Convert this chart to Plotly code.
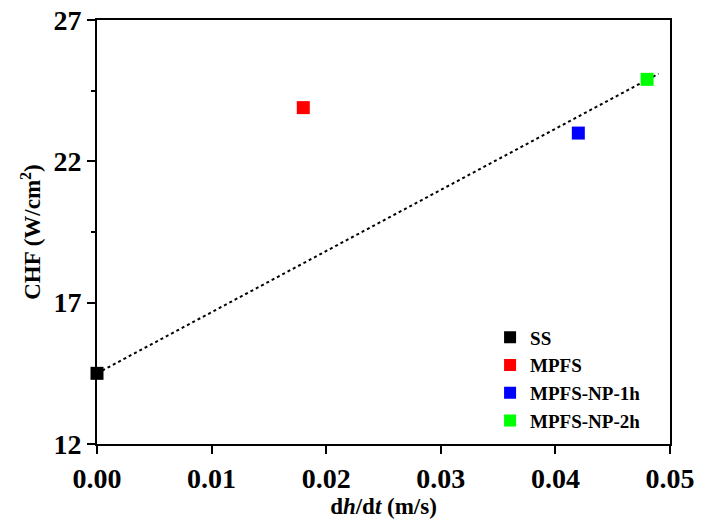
import plotly.graph_objects as go

series_names = ["SS", "MPFS", "MPFS-NP-1h", "MPFS-NP-2h"]
dhdt = [0.0, 0.018, 0.042, 0.048]
chf = [14.5, 23.9, 23.0, 24.9]
colors = ["#000000", "#ff0000", "#0000ff", "#00ff00"]

fit_x = [0.0, 0.049]
fit_y = [14.5, 25.1]

x_ticks = [0.00, 0.01, 0.02, 0.03, 0.04, 0.05]
x_ticktext = ["0.00", "0.01", "0.02", "0.03", "0.04", "0.05"]
y_ticks = [12, 17, 22, 27]

font = "Liberation Serif"

fig = go.Figure()
fig.add_trace(go.Scatter(x=fit_x, y=fit_y, mode="lines",
                         line=dict(color="black", width=2, dash="dot"),
                         showlegend=False, hoverinfo="skip"))
for n, xv, yv, c in zip(series_names, dhdt, chf, colors):
    fig.add_trace(go.Scatter(x=[xv], y=[yv], mode="markers", name=n,
                             marker=dict(symbol="square", size=13, color=c,
                                         line=dict(width=0)),
                             cliponaxis=False))

fig.update_layout(
    width=707, height=513,
    margin=dict(l=89, r=45, t=12, b=77),
    plot_bgcolor="white", paper_bgcolor="white",
    font=dict(family=font, color="black"),
    legend=dict(x=0.686, y=0.296, xanchor="left", yanchor="top",
                bgcolor="rgba(0,0,0,0)", borderwidth=0,
                font=dict(size=19, family=font, weight="bold"),
                itemsizing="constant", tracegroupgap=0),
)
fig.update_xaxes(
    range=[0, 0.05], tickvals=x_ticks, ticktext=x_ticktext,
    showgrid=False, zeroline=False, automargin=False,
    ticklabeloverflow="allow",
    showline=True, linecolor="black", linewidth=2, mirror=True,
    ticks="outside", ticklen=8, tickwidth=2, tickcolor="black",
    tickfont=dict(size=28, family=font, weight="bold"),
    title=dict(text="d<i>h</i>/d<i>t</i> (m/s)",
               font=dict(size=23, family=font, weight="bold"), standoff=4),
)
fig.update_yaxes(
    range=[12, 27], tickvals=y_ticks,
    showgrid=False, zeroline=False, automargin=False,
    ticklabeloverflow="allow",
    showline=True, linecolor="black", linewidth=2, mirror=True,
    ticks="outside", ticklen=8, tickwidth=2, tickcolor="black",
    minor=dict(dtick=2.5, tick0=12, ticks="outside", ticklen=4, tickwidth=2,
               tickcolor="black", showgrid=False),
    tickfont=dict(size=28, family=font, weight="bold"),
    title=dict(text="CHF (W/cm<sup>2</sup>)",
               font=dict(size=23, family=font, weight="bold"), standoff=6),
)

fig.write_html("out.html")
